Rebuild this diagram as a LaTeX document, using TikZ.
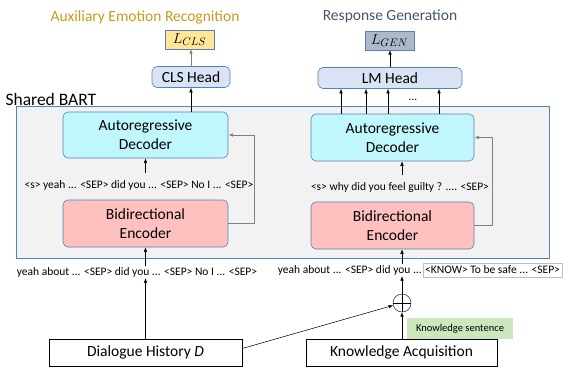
\documentclass[tikz,border=0pt]{standalone}
\usepackage{fontspec}
\setmainfont{Carlito}
\usepackage{tikz}
\usetikzlibrary{arrows.meta, positioning, calc}
\definecolor{boxblue}{RGB}{84,130,180}
\definecolor{headfill}{RGB}{218,227,243}
\definecolor{decfill}{RGB}{192,247,252}
\definecolor{encfill}{RGB}{255,192,192}
\definecolor{bartfill}{RGB}{242,242,242}
\definecolor{clsfill}{RGB}{255,230,153}
\definecolor{genfill}{RGB}{173,185,202}
\definecolor{ksfill}{RGB}{204,230,190}
\definecolor{titlegold}{RGB}{200,155,30}
\definecolor{titleblue}{RGB}{68,84,106}
\definecolor{arrowgray}{RGB}{128,128,128}

\begin{document}
\begin{tikzpicture}[x=1pt, y=-1pt,
	every node/.style={font=\fontsize{15.5}{19}\selectfont},
	arr/.style={-{Latex[length=4.5pt,width=3.5pt]}, line width=0.5pt},
	grayarr/.style={arr, draw=arrowgray, line width=1pt},
	block/.style={draw=boxblue, rounded corners=5pt, align=center, line width=0.6pt, inner sep=0pt},
	head/.style={block, fill=headfill, minimum height=21pt},
	loss/.style={draw=boxblue, minimum width=49pt, minimum height=19pt, inner sep=0pt},
	tokens/.style={font=\fontsize{11.5}{13}\selectfont, inner sep=1pt},
	source/.style={draw, minimum height=27pt, inner sep=0pt}]
	\useasboundingbox (0,0) rectangle (585,367);
	
	\node[text=titlegold] (auxtitle) at (145,17) {Auxiliary Emotion Recognition};
	\node[text=titleblue] (gentitle) at (390,16) {Response Generation};
	\node[loss, fill=clsfill] (lcls) at (189.5,39.5) {$L_{CLS}$};
	\node[loss, fill=genfill] (lgen) at (389.5,40.5) {$L_{GEN}$};
	\node[head, minimum width=78pt] (clshead) at (191,77) {CLS Head};
	\node[head, minimum width=144pt] (lmhead) at (390,78) {LM Head};
	
	\node[draw=boxblue, fill=bartfill, line width=0.6pt, minimum width=533pt, minimum height=152pt] (bart) at (282.5,182) {};
	\node[anchor=west, font=\fontsize{17.5}{20}\selectfont] (bartlabel) at (2,99) {Shared BART};
	
	\node[block, fill=decfill, minimum width=165pt, minimum height=46pt] (decl) at (145.5,135) {Autoregressive\\Decoder};
	\node[block, fill=encfill, minimum width=165pt, minimum height=47pt] (encl) at (145.5,223.5) {Bidirectional\\Encoder};
	\node[block, fill=decfill, minimum width=163pt, minimum height=47pt] (decr) at (392.5,137.5) {Autoregressive\\Decoder};
	\node[block, fill=encfill, minimum width=163pt, minimum height=47pt] (encr) at (392.5,225.5) {Bidirectional\\Encoder};
	
	\node[tokens] (tokl) at (139,185) {<s> yeah ... <SEP> did you ... <SEP> No I ... <SEP>};
	\node[tokens] (tokr) at (400,187) {<s> why did you feel guilty ? .... <SEP>};
	\node[tokens] (inl) at (137,272) {yeah about ... <SEP> did you ... <SEP> No I ... <SEP>};
	\node[tokens, anchor=east] (inr) at (423,270) {yeah about ... <SEP> did you ...};
	\node[tokens, draw=lightgray, anchor=west, minimum height=14pt, inner sep=2pt] (know) at (inr.east) {<KNOW> To be safe ... <SEP>};
	
	\node[draw, circle, minimum size=18pt, inner sep=0pt] (plus) at (402,303) {};
	\draw (plus.north) -- (plus.south) (plus.west) -- (plus.east);
	\node[fill=ksfill, minimum width=106pt, minimum height=21pt, font=\fontsize{10.5}{12}\selectfont] (ksent) at (460,328.5) {Knowledge sentence};
	
	\node[source, minimum width=193pt] (dial) at (145.5,352.5) {Dialogue History \textit{D}};
	\node[source, minimum width=191pt] (kacq) at (401.5,352.5) {Knowledge Acquisition};
	
	\draw[arr] (dial.north) -- (dial.north |- inl.south);
	\draw[arr] (inl.north -| encl.south) -- (encl.south);
	\draw[arr, shorten <=6pt] (tokl.north -| decl.south) -- (decl.south);
	\draw[grayarr] (encl.east) -- ++(26,0) |- (decl.east);
	\draw[arr] (decl.north -| clshead.south) -- (clshead.south);
	\draw[arr, draw=arrowgray] (clshead.north) -- (clshead.north |- lcls.south);
	
	\draw[arr] (kacq.north -| plus.south) -- (plus.south);
	\draw[arr] ([yshift=4pt]dial.east) -- (plus.195);
	\draw[arr] (plus.north) -- (plus.north |- inr.south);
	\draw[arr] (inr.north -| plus) -- (encr.south -| plus);
	\draw[arr, shorten <=6pt] (tokr.north -| plus) -- (decr.south -| plus);
	\draw[grayarr] (encr.east) -- ++(18,0) |- (decr.east);
	\foreach \dx in {-51.5,-26.5,-4.5,46.5}
		\draw[arr] ($(decr.north)+(\dx,0)$) -- ($(decr.north |- lmhead.south)+(\dx,0)$);
	\node[tokens] (dots) at (413,100) {...};
	\draw[arr] (lmhead.north) -- (lmhead.north |- lgen.south);
\end{tikzpicture}
\end{document}
